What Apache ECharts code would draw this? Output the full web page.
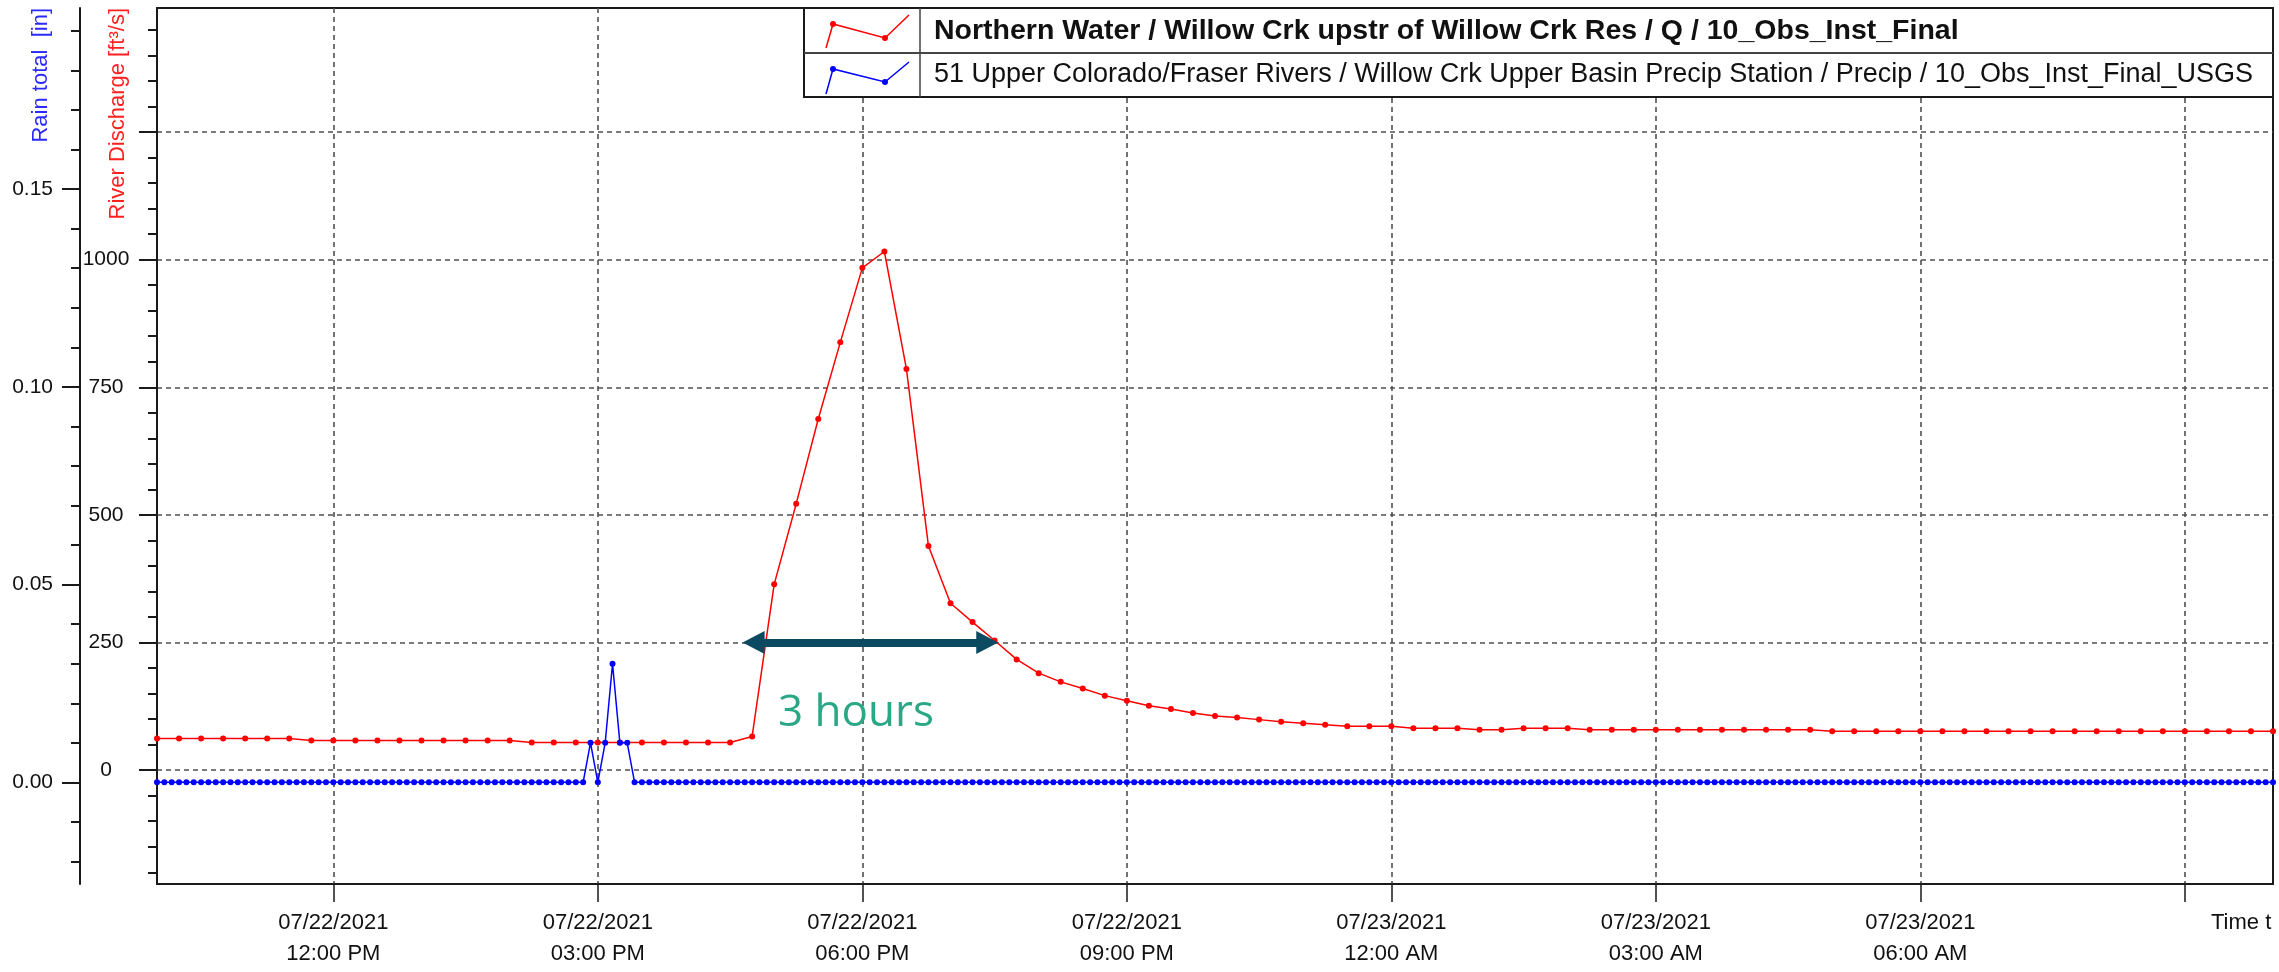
<!DOCTYPE html>
<html><head><meta charset="utf-8">
<script src="https://cdn.jsdelivr.net/npm/echarts@6/dist/echarts.min.js"></script>
<style>html,body{margin:0;padding:0;background:#fff}#c{width:2279px;height:972px}</style>
</head><body><div id="c"></div>
<script>
// ---------------- DATA ----------------
const seriesNames = [
  'Northern Water / Willow Crk upstr of Willow Crk Res / Q / 10_Obs_Inst_Final',
  '51 Upper Colorado/Fraser Rivers / Willow Crk Upper Basin Precip Station / Precip / 10_Obs_Inst_Final_USGS'
];
const startTime = '2021-07-22 10:00';
const endTime = '2021-07-23 10:00';
const dischargeStepMinutes = 15;
// River discharge [ft3/s], every 15 minutes, one row per hour
const discharge = [
  62, 62, 62, 62,      // 10 AM
  62, 62, 62, 58,      // 11 AM
  58, 58, 58, 58,      // 12 PM
  58, 58, 58, 58,      // 1 PM
  58, 54, 54, 54,      // 2 PM
  54, 54, 54, 54,      // 3 PM
  54, 54, 54, 66,      // 4 PM
  364, 522, 688, 838,  // 5 PM
  984, 1016, 786, 439, // 6 PM
  327, 290, 254, 217,  // 7 PM
  190, 173, 160, 146,  // 8 PM
  136, 126, 120, 112,  // 9 PM
  106, 103, 99, 95,    // 10 PM
  92, 89, 86, 86,      // 11 PM
  86, 82, 82, 82,      // 12 AM
  79, 79, 82, 82,      // 1 AM
  82, 79, 79, 79,      // 2 AM
  79, 79, 79, 79,      // 3 AM
  79, 79, 79, 79,      // 4 AM
  76, 76, 76, 76,      // 5 AM
  76, 76, 76, 76,      // 6 AM
  76, 76, 76, 76,      // 7 AM
  76, 76, 76, 76,      // 8 AM
  76, 76, 76, 76,      // 9 AM
  76                   // 10 AM
];
const precipStepMinutes = 5;
// Rain total [in], every 5 minutes, one row per hour
const precip = [
  0,0,0,0,0,0,0,0,0,0,0,0,          // 10 AM
  0,0,0,0,0,0,0,0,0,0,0,0,          // 11 AM
  0,0,0,0,0,0,0,0,0,0,0,0,          // 12 PM
  0,0,0,0,0,0,0,0,0,0,0,0,          // 1 PM
  0,0,0,0,0,0,0,0,0,0,0,0.01,       // 2 PM
  0,0.01,0.03,0.01,0.01,0,0,0,0,0,0,0, // 3 PM
  0,0,0,0,0,0,0,0,0,0,0,0,          // 4 PM
  0,0,0,0,0,0,0,0,0,0,0,0,          // 5 PM
  0,0,0,0,0,0,0,0,0,0,0,0,          // 6 PM
  0,0,0,0,0,0,0,0,0,0,0,0,          // 7 PM
  0,0,0,0,0,0,0,0,0,0,0,0,          // 8 PM
  0,0,0,0,0,0,0,0,0,0,0,0,          // 9 PM
  0,0,0,0,0,0,0,0,0,0,0,0,          // 10 PM
  0,0,0,0,0,0,0,0,0,0,0,0,          // 11 PM
  0,0,0,0,0,0,0,0,0,0,0,0,          // 12 AM
  0,0,0,0,0,0,0,0,0,0,0,0,          // 1 AM
  0,0,0,0,0,0,0,0,0,0,0,0,          // 2 AM
  0,0,0,0,0,0,0,0,0,0,0,0,          // 3 AM
  0,0,0,0,0,0,0,0,0,0,0,0,          // 4 AM
  0,0,0,0,0,0,0,0,0,0,0,0,          // 5 AM
  0,0,0,0,0,0,0,0,0,0,0,0,          // 6 AM
  0,0,0,0,0,0,0,0,0,0,0,0,          // 7 AM
  0,0,0,0,0,0,0,0,0,0,0,0,          // 8 AM
  0,0,0,0,0,0,0,0,0,0,0,0,          // 9 AM
  0                                 // 10 AM
];
const xTickTimes = ['2021-07-22 12:00','2021-07-22 15:00','2021-07-22 18:00','2021-07-22 21:00',
                    '2021-07-23 00:00','2021-07-23 03:00','2021-07-23 06:00','2021-07-23 09:00'];
const xLabelTimes = ['2021-07-22 12:00','2021-07-22 15:00','2021-07-22 18:00','2021-07-22 21:00',
                     '2021-07-23 00:00','2021-07-23 03:00','2021-07-23 06:00'];
const xAxisEndLabel = 'Time t';
const dischargeRange = [-223, 1493];
const dischargeMajorTicks = [0, 250, 500, 750, 1000, 1250];
const dischargeLabels = [0, 250, 500, 750, 1000];
const dischargeMinorTicks = [-200,-150,-100,-50,0,50,100,150,200,250,300,350,400,450,500,550,600,650,700,
  750,800,850,900,950,1000,1050,1100,1150,1200,1250,1300,1350,1400,1450];
const rainRange = [-0.0257, 0.1958];
const rainMajorTicks = [0, 0.05, 0.10, 0.15];
const rainMinorTicks = [-0.02,-0.01,0,0.01,0.02,0.03,0.04,0.05,0.06,0.07,0.08,0.09,0.10,0.11,0.12,
  0.13,0.14,0.15,0.16,0.17,0.18,0.19];
const rainAxisName = 'Rain total  [in]';
const dischargeAxisName = 'River Discharge [ft³/s]';
const annotationText = '3 hours';
const annotationArrow = [['2021-07-22 16:46', 250], ['2021-07-22 19:25', 250]];

// ---------------- HELPERS ----------------
function t(s){ const [d, hm] = s.split(' '); const [Y,M,D] = d.split('-').map(Number); const [h,m] = hm.split(':').map(Number); return Date.UTC(Y, M-1, D, h, m); }
const t0 = t(startTime);
const dischargeData = discharge.map((v, i) => [t0 + i*dischargeStepMinutes*60000, v]);
const precipData = precip.map((v, i) => [t0 + i*precipStepMinutes*60000, v]);
function pad(n){ return String(n).padStart(2,'0'); }
function fmtTime(v){
  const d = new Date(v);
  let h = d.getUTCHours(); const ap = h < 12 ? 'AM' : 'PM'; let h12 = h % 12; if (h12 === 0) h12 = 12;
  return pad(d.getUTCMonth()+1) + '/' + pad(d.getUTCDate()) + '/' + d.getUTCFullYear() + '\n' + pad(h12) + ':' + pad(d.getUTCMinutes()) + ' ' + ap;
}

const FONT = '"Liberation Sans", Arial, sans-serif';
const gridLine = { show: true, lineStyle: { color: '#505050', width: 1.6, type: [5, 4] } };
const axisLineStyle = { color: '#1a1a1a', width: 2 };

const chart = echarts.init(document.getElementById('c'), null, { renderer: 'canvas' });
chart.setOption({
  animation: false,
  backgroundColor: '#fff',
  textStyle: { fontFamily: FONT },
  grid: { left: 157, right: 6, top: 8, bottom: 88, show: true, borderColor: '#1a1a1a', borderWidth: 2, backgroundColor: 'transparent', containLabel: false, outerBoundsMode: 'none' },
  xAxis: {
    type: 'value', min: t(startTime), max: t(endTime),
    axisLine: { show: true, onZero: false, lineStyle: axisLineStyle },
    axisTick: { show: true, inside: false, length: 18, lineStyle: { color: '#1a1a1a', width: 1.5 }, customValues: xTickTimes.map(t) },
    axisLabel: { customValues: xLabelTimes.map(t), formatter: (v) => fmtTime(v), color: '#111', fontSize: 22, lineHeight: 31, margin: 23, fontFamily: FONT, hideOverlap: false },
    splitLine: gridLine
  },
  yAxis: [
    { // discharge major
      type: 'value', position: 'left', offset: 0, min: dischargeRange[0], max: dischargeRange[1],
      axisLine: { show: true, onZero: false, lineStyle: axisLineStyle },
      axisTick: { show: true, length: 18, lineStyle: { color: '#1a1a1a', width: 2 }, customValues: dischargeMajorTicks },
      axisLabel: { customValues: dischargeLabels, formatter: (v) => String(v), align: 'center', margin: 51, color: '#111', fontSize: 21, fontFamily: FONT },
      splitLine: gridLine
    },
    { // discharge minor
      type: 'value', position: 'left', offset: 0, min: dischargeRange[0], max: dischargeRange[1],
      axisLine: { show: false },
      axisTick: { show: true, length: 9, lineStyle: { color: '#1a1a1a', width: 2 }, customValues: dischargeMinorTicks },
      axisLabel: { show: false }, splitLine: { show: false }
    },
    { // rain major
      type: 'value', position: 'left', offset: 77, min: rainRange[0], max: rainRange[1],
      axisLine: { show: true, onZero: false, lineStyle: axisLineStyle },
      axisTick: { show: true, length: 18, lineStyle: { color: '#1a1a1a', width: 2 }, customValues: rainMajorTicks },
      axisLabel: { customValues: rainMajorTicks, formatter: (v) => v.toFixed(2), margin: 27, color: '#111', fontSize: 21, fontFamily: FONT },
      splitLine: { show: false }
    },
    { // rain minor
      type: 'value', position: 'left', offset: 77, min: rainRange[0], max: rainRange[1],
      axisLine: { show: false },
      axisTick: { show: true, length: 9, lineStyle: { color: '#1a1a1a', width: 2 }, customValues: rainMinorTicks },
      axisLabel: { show: false }, splitLine: { show: false }
    }
  ],
  series: [
    {
      name: seriesNames[0], type: 'line', yAxisIndex: 0, data: dischargeData,
      symbol: 'circle', symbolSize: 6, showSymbol: true,
      itemStyle: { color: '#ff0000' }, lineStyle: { color: '#ff0000', width: 1.5 },
      z: 3,
      markLine: {
        silent: true, animation: false,
        symbol: ['triangle', 'triangle'], symbolSize: [23, 22],
        label: { show: false },
        lineStyle: { color: '#0b4a60', width: 8, type: 'solid' },
        data: [[{ coord: [t(annotationArrow[0][0]), annotationArrow[0][1]], itemStyle: { color: '#0b4a60' } },
                { coord: [t(annotationArrow[1][0]), annotationArrow[1][1]], itemStyle: { color: '#0b4a60' } }]]
      }
    },
    {
      name: seriesNames[1], type: 'line', yAxisIndex: 2, data: precipData,
      symbol: 'circle', symbolSize: 6, showSymbol: true,
      itemStyle: { color: '#0000ff' }, lineStyle: { color: '#0000ff', width: 1.5 },
      z: 4
    }
  ],
  graphic: [
    { type: 'text', x: 41, y: 8, rotation: Math.PI/2, z: 50,
      style: { text: rainAxisName, align: 'right', textAlign: 'right', verticalAlign: 'middle', textVerticalAlign: 'middle', font: '22px ' + FONT, fill: '#2a2aff' } },
    { type: 'text', x: 118, y: 8, rotation: Math.PI/2, z: 50,
      style: { text: dischargeAxisName, align: 'right', textAlign: 'right', verticalAlign: 'middle', textVerticalAlign: 'middle', font: '22px ' + FONT, fill: '#ff2020' } },
    { type: 'text', x: 2211, y: 923, z: 50,
      style: { text: xAxisEndLabel, align: 'left', textAlign: 'left', verticalAlign: 'middle', textVerticalAlign: 'middle', font: '22px ' + FONT, fill: '#111' } },
    { type: 'text', x: 778, y: 713, z: 60,
      style: { text: annotationText, align: 'left', textAlign: 'left', verticalAlign: 'middle', textVerticalAlign: 'middle', font: '44px "Open Sans", sans-serif', fill: '#2aa886' } },
    { type: 'rect', z: 100, shape: { x: 804, y: 8, width: 1469, height: 89 }, style: { fill: '#fff', stroke: '#1a1a1a', lineWidth: 2 } },
    { type: 'line', z: 101, shape: { x1: 804, y1: 53, x2: 2273, y2: 53 }, style: { stroke: '#444', lineWidth: 2 } },
    { type: 'line', z: 101, shape: { x1: 920, y1: 8, x2: 920, y2: 97 }, style: { stroke: '#444', lineWidth: 1.5 } },
    { type: 'polyline', z: 101, shape: { points: [[826,48],[833,24],[885,38],[909,15]] }, style: { stroke: '#ff0000', lineWidth: 1.5, fill: null } },
    { type: 'circle', z: 102, shape: { cx: 833, cy: 24, r: 3 }, style: { fill: '#ff0000' } },
    { type: 'circle', z: 102, shape: { cx: 885, cy: 38, r: 3 }, style: { fill: '#ff0000' } },
    { type: 'polyline', z: 101, shape: { points: [[826,94],[833,69],[885,82],[909,62]] }, style: { stroke: '#0000ff', lineWidth: 1.5, fill: null } },
    { type: 'circle', z: 102, shape: { cx: 833, cy: 69, r: 3 }, style: { fill: '#0000ff' } },
    { type: 'circle', z: 102, shape: { cx: 885, cy: 82, r: 3 }, style: { fill: '#0000ff' } },
    { type: 'text', x: 934, y: 31, z: 102,
      style: { text: seriesNames[0], align: 'left', textAlign: 'left', verticalAlign: 'middle', textVerticalAlign: 'middle', font: 'bold 28.5px ' + FONT, fill: '#111' } },
    { type: 'text', x: 934, y: 75, z: 102,
      style: { text: seriesNames[1], align: 'left', textAlign: 'left', verticalAlign: 'middle', textVerticalAlign: 'middle', font: '27px ' + FONT, fill: '#111' } }
  ]
});
</script>
</body></html>
